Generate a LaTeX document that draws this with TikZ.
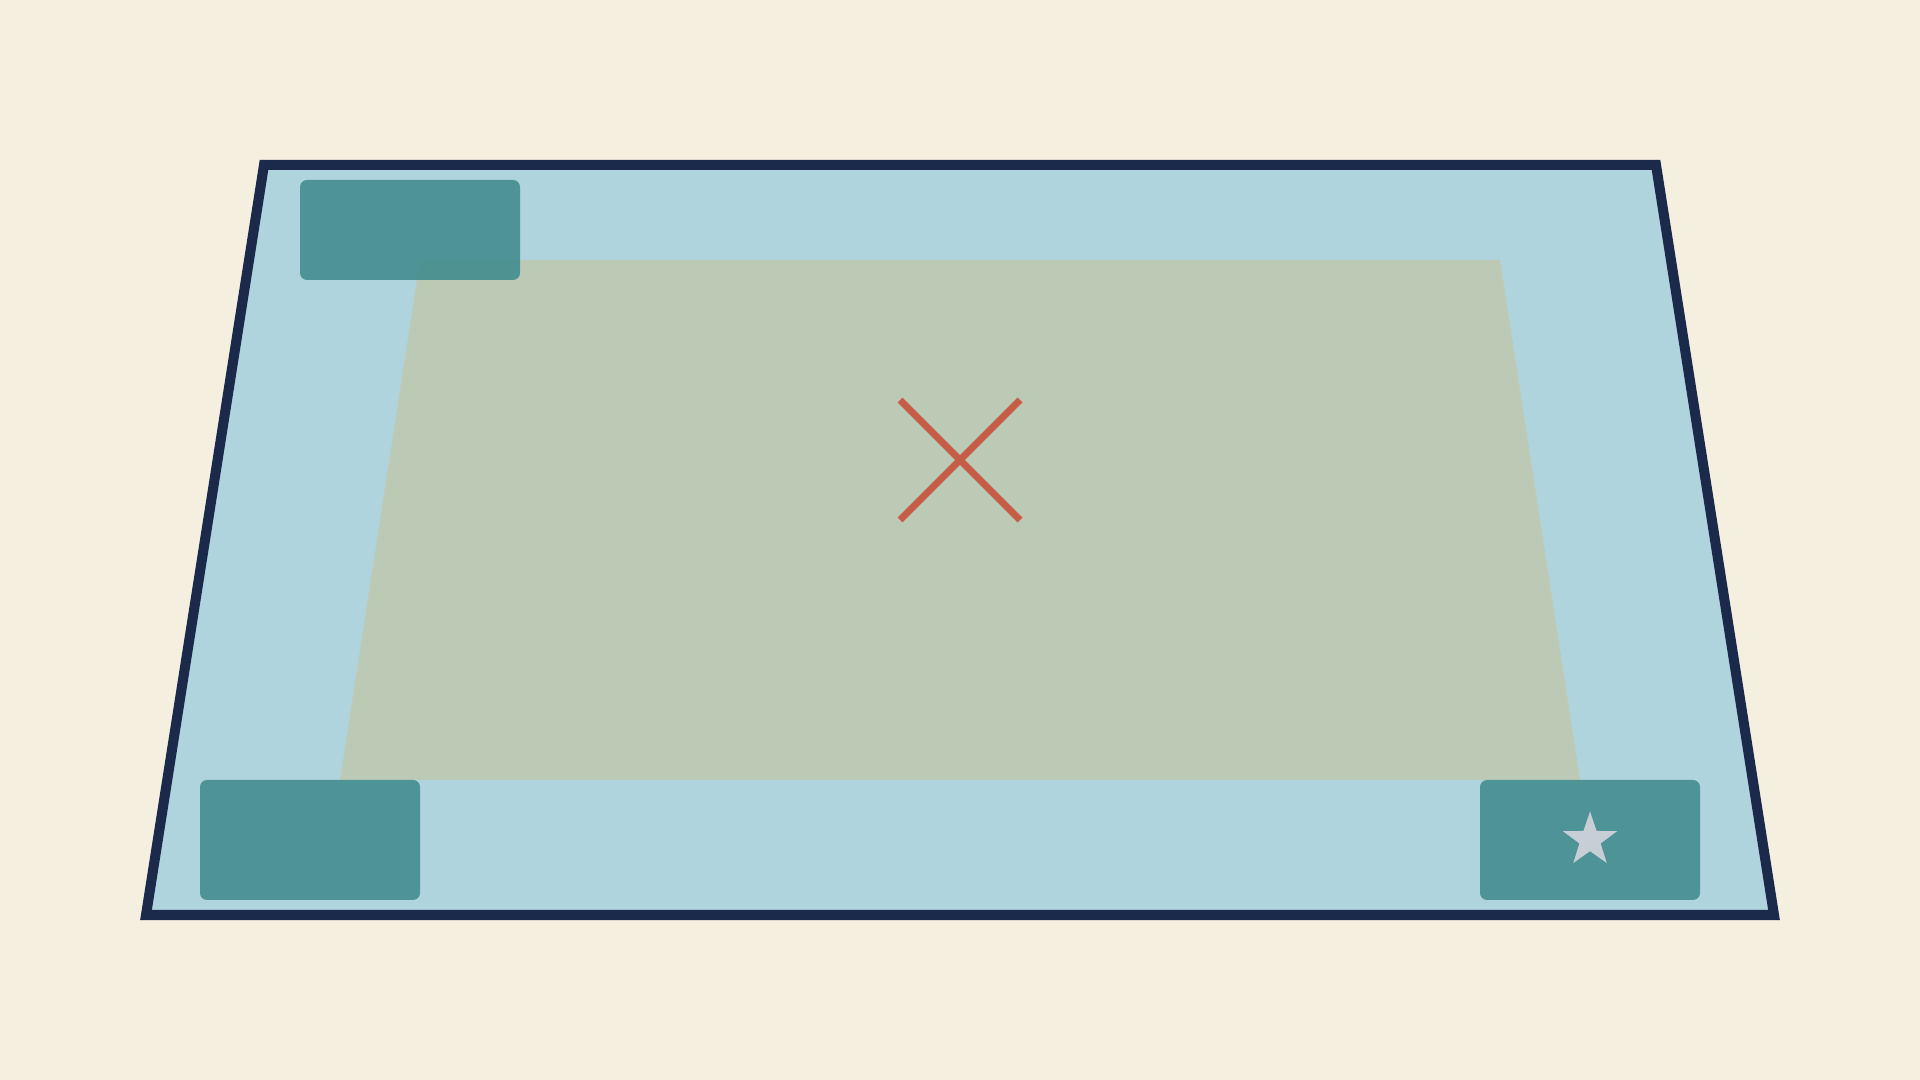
\documentclass[tikz,border=0pt]{standalone}
\usepackage{tikz}
\usetikzlibrary{shapes.geometric}

\definecolor{cream}{HTML}{F5EFE0}
\definecolor{lakeblue}{HTML}{AFD4DD}
\definecolor{navy}{HTML}{1B2A4A}
\definecolor{sage}{HTML}{BCCAB5}
\definecolor{teal}{HTML}{448D8F}
\definecolor{brick}{HTML}{C65D48}
\definecolor{silver}{HTML}{C8CED6}

\tikzset{
  padbox/.style={fill=teal, fill opacity=0.9, rounded corners=0.07cm, inner sep=0pt,
    minimum width=2.2cm},
  mark x/.style={draw=brick, line width=2pt}
}

\begin{document}
\begin{tikzpicture}

\fill [cream] (0,0) rectangle (19.2,10.8) ;
\useasboundingbox (0,0) rectangle (19.2,10.8) ;

\draw [navy, fill=lakeblue, line width=2.85pt, line join=miter] (2.64,9.15) -- (16.56,9.15) -- (17.74,1.65) -- (1.46,1.65) -- cycle ;

\fill [sage] (4.2,8.2) -- (15,8.2) -- (15.8,3) -- (3.4,3) -- cycle ;

\node [padbox, minimum height=1cm] (topleft) at (4.1,8.5) {} ;
\node [padbox, minimum height=1.2cm] (bottomleft) at (3.1,2.4) {} ;
\node [padbox, minimum height=1.2cm] (bottomright) at (15.9,2.4) {} ;

\node [star, star points=5, star point ratio=2.55, fill=silver, inner sep=0pt, minimum size=0.57cm] (goal) at (bottomright.center) {} ;

\coordinate (spot) at (9.6,6.2) ;
\draw [mark x] ([shift={(-0.6,0.6)}]spot) -- ([shift={(0.6,-0.6)}]spot) ;
\draw [mark x] ([shift={(-0.6,-0.6)}]spot) -- ([shift={(0.6,0.6)}]spot) ;

\end{tikzpicture}
\end{document}
